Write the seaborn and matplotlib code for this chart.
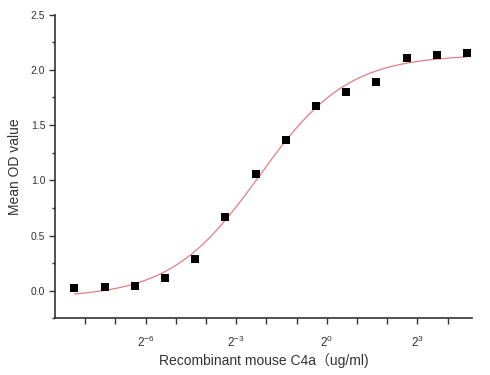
import numpy as np
import pandas as pd
import matplotlib
matplotlib.use("Agg")
import matplotlib.pyplot as plt
from matplotlib.ticker import FixedLocator, FixedFormatter, MultipleLocator, NullLocator
import seaborn as sns

# ---- data ----
conc = [0.00305, 0.0061, 0.0122, 0.0244, 0.0488, 0.0977, 0.1953,
        0.3906, 0.7813, 1.5625, 3.125, 6.25, 12.5, 25.0]
od = [0.024, 0.030, 0.045, 0.115, 0.29, 0.666, 1.06,
      1.365, 1.673, 1.80, 1.887, 2.107, 2.134, 2.155]
x_tick_exps = list(range(-8, 5))
x_label_exps = [-6, -3, 0, 3]
y_ticks = [0.0, 0.5, 1.0, 1.5, 2.0, 2.5]

df = pd.DataFrame({"conc": conc, "od": od})

# ---- 4-parameter logistic fit (in log2 x) via grid search + linear LS ----
t = np.log2(np.array(conc))
y = np.array(od)
best = None
for t0 in np.arange(-4.0, -0.5, 0.01):
    ks = np.arange(0.3, 1.6, 0.005)
    f = 1.0 / (1.0 + 2.0 ** (-ks[:, None] * (t[None, :] - t0)))
    g = 1.0 - f
    a11 = (g * g).sum(1); a12 = (g * f).sum(1); a22 = (f * f).sum(1)
    b1 = (g * y).sum(1); b2 = (f * y).sum(1)
    det = a11 * a22 - a12 ** 2
    A = (a22 * b1 - a12 * b2) / det
    D = (a11 * b2 - a12 * b1) / det
    res = ((A[:, None] * g + D[:, None] * f - y[None, :]) ** 2).sum(1)
    i = np.argmin(res)
    if best is None or res[i] < best[0]:
        best = (res[i], A[i], D[i], t0, ks[i])
_, A, D, T0, K = best
tt = np.linspace(t.min(), t.max(), 300)
fit_df = pd.DataFrame({"conc": 2.0 ** tt,
                       "od": A + (D - A) / (1.0 + 2.0 ** (-K * (tt - T0)))})

# ---- plot ----
sns.set_style("white")
plt.rcParams["font.family"] = ["Liberation Sans", "Noto Sans CJK SC", "DejaVu Sans"]
plt.rcParams["mathtext.default"] = "regular"
plt.rcParams["axes.unicode_minus"] = False

fig = plt.figure(figsize=(4.9, 3.75), dpi=100)
ax = fig.add_axes([55 / 490, 1 - 318.3 / 375, (472 - 55) / 490, (318.3 - 14.7) / 375])

sns.lineplot(data=fit_df, x="conc", y="od", ax=ax, color="#e47c84", linewidth=0.9)
sns.scatterplot(data=df, x="conc", y="od", ax=ax, marker="s", s=28,
                color="black", edgecolor="black", linewidth=0, zorder=3)

ax.set_xscale("log", base=2)
ax.set_xlim(2 ** -9.0, 2 ** 4.81)
ax.set_ylim(-0.25, 2.5)

ax.xaxis.set_major_locator(FixedLocator([2.0 ** k for k in x_tick_exps]))
ax.xaxis.set_major_formatter(FixedFormatter(
    [("$2^{%d}$" % k) if k in x_label_exps else "" for k in x_tick_exps]))
ax.xaxis.set_minor_locator(NullLocator())
ax.yaxis.set_major_locator(FixedLocator(y_ticks))
ax.yaxis.set_major_formatter(FixedFormatter(["%.1f" % v for v in y_ticks]))
ax.yaxis.set_minor_locator(MultipleLocator(0.25))

for s in ["top", "right"]:
    ax.spines[s].set_visible(False)
for s in ["left", "bottom"]:
    ax.spines[s].set_color("#333333")
    ax.spines[s].set_linewidth(1.2)

ax.tick_params(axis="both", which="major", direction="out", length=4, width=1,
               color="#333333", labelsize=7.5, labelcolor="#333333", pad=3,
               bottom=True, left=True)
ax.tick_params(axis="y", which="minor", direction="out", length=2.5, width=1,
               color="#333333", left=True)
ax.tick_params(axis="x", labelsize=8.5, pad=8)

ax.set_xlabel("Recombinant mouse C4a（ug/ml)", fontsize=10, color="#333333", labelpad=2)
ax.set_ylabel("Mean OD value", fontsize=10, color="#333333", labelpad=6)

fig.savefig("out.png", dpi=100)
